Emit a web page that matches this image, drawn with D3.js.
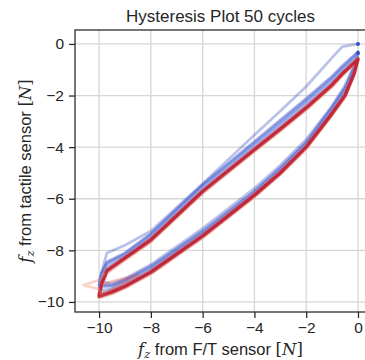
<!DOCTYPE html>
<html lang="en">
<head>
<meta charset="UTF-8">
<title>Hysteresis Plot 50 cycles</title>
<script src="https://d3js.org/d3.v7.min.js"></script>
<style>
    body { margin: 0; background: #fff; }
    svg { display: block; font-family: Arial, "Liberation Sans", sans-serif; }
</style>
</head>
<body>
<div id="chart"></div>
<script>
// F/T sensor force along one loop: loading down to -10 N, then unloading back to 0
const ftForce = [0, -0.6, -1, -2, -3, -4, -6, -8, -9, -9.7, -9.9, -10,
                 -9.5, -9, -8, -6, -4, -3, -2, -1, -0.5, -0.15, 0];

// tactile sensor reading for a few representative cycles (same points as ftForce)
const tactileCycle1  = [0, -0.1, -0.53, -1.65, -2.6, -3.53, -5.42, -7.25, -7.8, -8.1, -8.85, -9.2,
                        -9.3, -9.1, -8.55, -7.15, -5.6, -4.7, -3.7, -2.4, -1.6, -0.85, -0.35];
const tactileCycle2  = [-0.3, -0.85, -1.25, -2.12, -2.95, -3.78, -5.45, -7.35, -8.1, -8.45, -8.85, -9.35,
                        -9.35, -9.15, -8.62, -7.25, -5.7, -4.8, -3.8, -2.45, -1.7, -0.9, -0.3];
const tactileCycle4  = [-0.35, -0.92, -1.32, -2.2, -3.03, -3.85, -5.5, -7.4, -8.15, -8.5, -8.9, -9.4,
                        -9.4, -9.2, -8.68, -7.3, -5.75, -4.85, -3.85, -2.5, -1.75, -0.95, -0.35];
const tactileCycle7  = [-0.4, -0.98, -1.4, -2.28, -3.12, -3.93, -5.58, -7.48, -8.2, -8.6, -9.0, -9.55,
                        -9.5, -9.3, -8.75, -7.35, -5.8, -4.9, -3.9, -2.55, -1.8, -1.0, -0.4];
const tactileCycle12 = [-0.45, -1.03, -1.46, -2.35, -3.18, -3.98, -5.63, -7.53, -8.25, -8.7, -9.1, -9.65,
                        -9.55, -9.35, -8.8, -7.4, -5.82, -4.93, -3.93, -2.6, -1.9, -1.05, -0.45];
const tactileCycle28 = [-0.6, -1.22, -1.66, -2.56, -3.38, -4.18, -5.8, -7.68, -8.38, -8.9, -9.4, -9.85,
                        -9.7, -9.48, -8.92, -7.52, -5.92, -5.05, -4.05, -2.75, -2.05, -1.2, -0.6];
const tactileCycle36 = [-0.62, -1.21, -1.64, -2.53, -3.35, -4.15, -5.77, -7.65, -8.35, -8.85, -9.35, -9.82,
                        -9.66, -9.44, -8.9, -7.5, -5.92, -5.05, -4.05, -2.75, -2.05, -1.2, -0.62];
const tactileCycle43 = [-0.55, -1.12, -1.55, -2.44, -3.26, -4.06, -5.68, -7.56, -8.27, -8.75, -9.25, -9.72,
                        -9.58, -9.36, -8.81, -7.41, -5.83, -4.96, -3.96, -2.66, -1.96, -1.1, -0.55];
const tactileCycle50 = [-0.6, -1.16, -1.59, -2.48, -3.3, -4.1, -5.72, -7.6, -8.3, -8.8, -9.3, -9.78,
                        -9.62, -9.4, -8.85, -7.45, -5.87, -5.0, -4.0, -2.7, -2.0, -1.15, -0.6];

// glitches near the turning point in some late cycles
const glitchCycle40X = [-9.8, -10.0, -10.6, -10.0, -9.9];
const glitchCycle40Y = [-8.9, -9.15, -9.35, -9.5, -9.7];
const glitchCycle45X = [-9.85, -8.5, -9.6];
const glitchCycle45Y = [-9.3, -8.95, -9.55];

// start markers of the first cycles
const startX = [0, 0];
const startY = [0, -0.35];

const nCycles = 50;
const xTicks = [-10, -8, -6, -4, -2, 0];
const yTicks = [0, -2, -4, -6, -8, -10];

const cycles = [
    { cycle: 1,  y: tactileCycle1 },
    { cycle: 2,  y: tactileCycle2 },
    { cycle: 4,  y: tactileCycle4 },
    { cycle: 7,  y: tactileCycle7 },
    { cycle: 12, y: tactileCycle12 },
    { cycle: 28, y: tactileCycle28 },
    { cycle: 36, y: tactileCycle36 },
    { cycle: 43, y: tactileCycle43 },
    { cycle: 50, y: tactileCycle50 }
];
const glitches = [
    { cycle: 40, x: glitchCycle40X, y: glitchCycle40Y },
    { cycle: 45, x: glitchCycle45X, y: glitchCycle45Y }
];

const width = 365, height = 360;
const margin = { top: 30, right: -1, bottom: 48, left: 75 };

const svg = d3.select("#chart").append("svg")
    .attr("width", width)
    .attr("height", height);

const x = d3.scaleLinear()
    .domain([-10.93, 0.31])
    .range([margin.left, width - margin.right]);

const y = d3.scaleLinear()
    .domain([-10.39, 0.54])
    .range([height - margin.bottom, margin.top]);

// matplotlib "coolwarm"
const coolwarm = d3.interpolateRgbBasis(["#3b4cc0", "#6788ee", "#9abbff", "#c9d7f0",
                                          "#edd1c2", "#f7a889", "#e26952", "#b40426"]);
const color = c => coolwarm((c - 1) / (nCycles - 1));

// grid
svg.append("g")
    .selectAll("line")
    .data(xTicks)
    .join("line")
    .attr("x1", d => x(d)).attr("x2", d => x(d))
    .attr("y1", margin.top).attr("y2", height - margin.bottom)
    .attr("stroke", "#d6d6d6").attr("stroke-width", 1.3);

svg.append("g")
    .selectAll("line")
    .data(yTicks)
    .join("line")
    .attr("x1", margin.left).attr("x2", width - margin.right)
    .attr("y1", d => y(d)).attr("y2", d => y(d))
    .attr("stroke", "#d6d6d6").attr("stroke-width", 1.3);

// loops
const line = d3.line().x(d => x(d[0])).y(d => y(d[1]));

const plot = svg.append("g")
    .attr("fill", "none")
    .attr("stroke-linejoin", "round")
    .attr("stroke-linecap", "round");

plot.selectAll("path.loop")
    .data(cycles)
    .join("path")
    .attr("class", "loop")
    .attr("d", c => line(ftForce.map((f, i) => [f, c.y[i]])))
    .attr("stroke", c => color(c.cycle))
    .attr("stroke-width", c => c.cycle > 30 ? 3.4 : 2.8)
    .attr("stroke-opacity", c => c.cycle === 1 ? 0.35 : (c.cycle > 30 ? 0.7 : 0.5));

plot.selectAll("path.glitch")
    .data(glitches)
    .join("path")
    .attr("class", "glitch")
    .attr("d", g => line(g.x.map((v, i) => [v, g.y[i]])))
    .attr("stroke", g => color(g.cycle))
    .attr("stroke-width", 2.8)
    .attr("stroke-opacity", 0.35);

svg.append("g")
    .selectAll("circle")
    .data(startX)
    .join("circle")
    .attr("cx", d => x(d))
    .attr("cy", (d, i) => y(startY[i]))
    .attr("r", 2)
    .attr("fill", color(1));

// axes
const fmt = d => d3.format("d")(d).replace("-", "\u2212");
const xAxis = svg.append("g")
    .attr("transform", `translate(0,${height - margin.bottom})`)
    .call(d3.axisBottom(x).tickValues(xTicks).tickSize(6).tickPadding(4).tickFormat(fmt));
const yAxis = svg.append("g")
    .attr("transform", `translate(${margin.left},0)`)
    .call(d3.axisLeft(y).tickValues(yTicks).tickSize(6).tickPadding(5).tickFormat(fmt));

[xAxis, yAxis].forEach(a => {
    a.select(".domain").remove();
    a.selectAll(".tick line").attr("stroke", "#262626").attr("stroke-width", 1.25);
    a.selectAll(".tick text")
        .attr("fill", "#262626")
        .style("font-size", "15.5px")
        .style("font-family", "Arial, 'Liberation Sans', sans-serif");
});

// frame
svg.append("rect")
    .attr("x", margin.left)
    .attr("y", margin.top)
    .attr("width", width - margin.right - margin.left)
    .attr("height", height - margin.bottom - margin.top)
    .attr("fill", "none")
    .attr("stroke", "#262626")
    .attr("stroke-width", 1.25);

// title
svg.append("text")
    .attr("x", (margin.left + width - margin.right) / 2)
    .attr("y", 22)
    .attr("text-anchor", "middle")
    .attr("fill", "#262626")
    .style("font-size", "17px")
    .text("Hysteresis Plot 50 cycles");

// axis labels with math parts
function mathLabel(sel, rest) {
    sel.append("tspan").attr("font-family", "'DejaVu Serif', serif").attr("font-style", "italic").text("f");
    sel.append("tspan").attr("font-family", "'DejaVu Serif', serif").attr("font-style", "italic")
        .attr("font-size", "11.5px").attr("dy", 3).text("z");
    sel.append("tspan").attr("dy", -3).text(rest);
    sel.append("tspan").attr("font-family", "'DejaVu Serif', serif").text("[");
    sel.append("tspan").attr("font-family", "'DejaVu Serif', serif").attr("font-style", "italic").text("N");
    sel.append("tspan").attr("font-family", "'DejaVu Serif', serif").text("]");
}

svg.append("text")
    .attr("x", (margin.left + width - margin.right) / 2)
    .attr("y", 355)
    .attr("text-anchor", "middle")
    .attr("fill", "#262626")
    .style("font-size", "16.5px")
    .call(mathLabel, " from F/T sensor ");

svg.append("text")
    .attr("transform", `translate(31,${(margin.top + height - margin.bottom) / 2}) rotate(-90)`)
    .attr("text-anchor", "middle")
    .attr("fill", "#262626")
    .style("font-size", "16.5px")
    .call(mathLabel, " from tactile sensor ");
</script>
</body>
</html>
